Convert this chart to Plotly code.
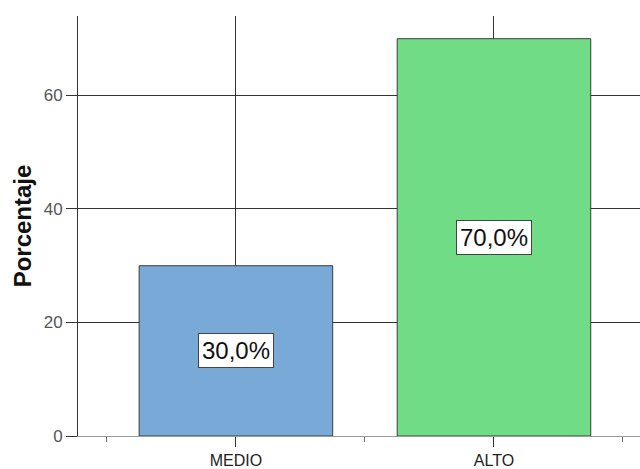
import plotly.graph_objects as go

categories = ["MEDIO", "ALTO"]
percentages = [30.0, 70.0]
bar_colors = ["#79A9D6", "#70DD86"]
y_ticks = [0, 20, 40, 60]

xpos = list(range(len(categories)))

fig = go.Figure()
fig.add_trace(go.Bar(
    x=xpos,
    y=percentages,
    width=0.75,
    marker=dict(color=bar_colors, line=dict(color="#3a3a3a", width=1)),
    hoverinfo="skip",
))

# value labels in white boxes at the middle of each bar
for xp, v in zip(xpos, percentages):
    fig.add_annotation(
        x=xp, y=v / 2, xref="x", yref="y",
        text=f"{v:.1f}%".replace(".", ","),
        showarrow=False,
        font=dict(family="Liberation Sans, Arial", size=24, color="#111111"),
        bgcolor="white",
        bordercolor="#444444",
        borderwidth=1,
        borderpad=3,
    )

fig.update_layout(
    width=640, height=469,
    margin=dict(l=78, r=0, t=16, b=30),
    paper_bgcolor="white",
    plot_bgcolor="white",
    showlegend=False,
    font=dict(family="Liberation Sans, Arial"),
)

fig.update_xaxes(
    range=[-0.612, 1.566],
    tickmode="array",
    tickvals=xpos,
    ticktext=categories,
    ticks="outside",
    ticklen=10,
    tickcolor="#333333",
    tickfont=dict(size=16, color="#222222"),
    showgrid=True,
    gridcolor="#333333",
    gridwidth=1,
    showline=True,
    linecolor="#9a9a9a",
    linewidth=1,
    zeroline=False,
    minor=dict(tickmode="array", tickvals=[-0.5, 0.5, 1.5], ticks="outside",
               ticklen=5, tickcolor="#666666", showgrid=False),
    layer="below traces",
)

fig.update_yaxes(
    range=[0, 74],
    tickmode="array",
    tickvals=y_ticks,
    ticks="outside",
    ticklen=11,
    tickcolor="#333333",
    tickfont=dict(size=17, color="#555555"),
    showgrid=True,
    gridcolor="#333333",
    gridwidth=1,
    showline=True,
    linecolor="#333333",
    linewidth=1,
    zeroline=False,
    title=dict(text="<b>Porcentaje</b>", font=dict(size=24, color="#111111"), standoff=5),
    layer="below traces",
)

fig.write_html("out.html")
